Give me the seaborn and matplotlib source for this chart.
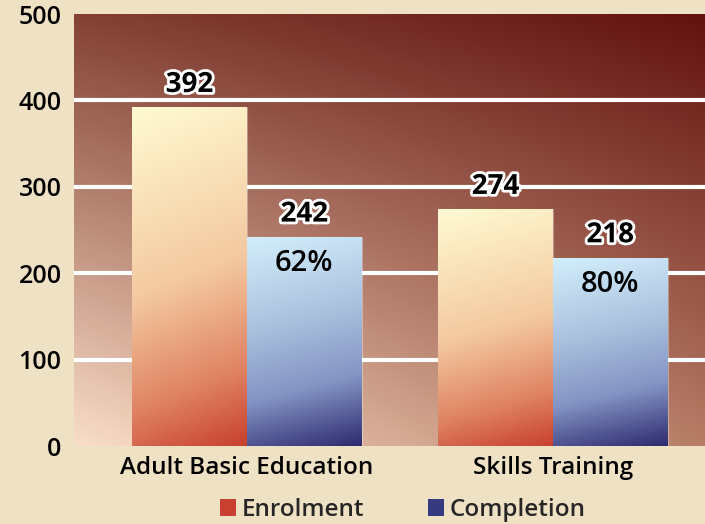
import numpy as np
import pandas as pd
import matplotlib
matplotlib.use("Agg")
import matplotlib.pyplot as plt
import seaborn as sns
from matplotlib.colors import LinearSegmentedColormap, to_rgb
import matplotlib.patheffects as pe

# ---- data ----
categories = ["Adult Basic Education", "Skills Training"]
series = ["Enrolment", "Completion"]
enrolment = [392, 274]
completion = [242, 218]
completion_pct = ["62%", "80%"]
y_ticks = [0, 100, 200, 300, 400, 500]

df = pd.DataFrame({
    "Program": categories * 2,
    "Series": [series[0]] * len(categories) + [series[1]] * len(categories),
    "Count": enrolment + completion,
})

sns.set_theme(style="white")
plt.rcParams['font.family'] = ['Open Sans', 'DejaVu Sans']

W, H = 705, 524
fig = plt.figure(figsize=(W / 100, H / 100), dpi=100, facecolor="#efe2c4")
ax = fig.add_axes([74 / W, 78 / H, 631 / W, 432 / H])

sns.barplot(data=df, x="Program", y="Count", hue="Series", order=categories,
            hue_order=series, palette=["#c8402f", "#363a7f"], width=0.75,
            saturation=1, ax=ax, zorder=3, edgecolor="none")

xlim = (-0.565, 1.497)
ylim = (0, 500)

# background gradient of plot area (bilinear between corners)
tl, tr = np.array(to_rgb("#834134")), np.array(to_rgb("#62120e"))
bl, br = np.array(to_rgb("#fadec7")), np.array(to_rgb("#b77d66"))
n = 200
u = np.linspace(0, 1, n)[None, :, None]
v = np.linspace(0, 1, n)[:, None, None]
bg = (1 - v) * ((1 - u) * tl + u * tr) + v * ((1 - u) * bl + u * br)
ax.imshow(bg, extent=[0, 1, 0, 1], transform=ax.transAxes, aspect="auto",
          zorder=0, interpolation="bilinear")

for yv in y_ticks[1:-1]:
    ax.axhline(yv, color="white", lw=3.0, zorder=1)

cmap_e = LinearSegmentedColormap.from_list(
    "e", [(0, "#fffad2"), (0.5, "#f4c9a0"), (0.8, "#df8262"), (1, "#c8412e")])
cmap_c = LinearSegmentedColormap.from_list(
    "c", [(0, "#d3effc"), (0.4, "#aac1de"), (0.7, "#8494c4"), (1, "#2e2b70")])

uu = np.linspace(0, 1, 100)[None, :]
vv = np.linspace(0, 1, 200)[:, None]
grad = 0.88 * vv + 0.12 * uu

for cont, cmap in zip(ax.containers, [cmap_e, cmap_c]):
    for bar in cont:
        x0, y0 = bar.get_x(), bar.get_y()
        w, h = bar.get_width(), bar.get_height()
        im = ax.imshow(grad, cmap=cmap, vmin=0, vmax=1, origin="upper",
                       extent=[x0, x0 + w, y0, y0 + h], aspect="auto",
                       zorder=3, interpolation="bilinear")
        im.set_clip_path(bar)
        bar.set_facecolor("none")
        bar.set_edgecolor((1, 1, 1, 0.35))
        bar.set_linewidth(0.8)

stroke = [pe.withStroke(linewidth=4, foreground="white")]
for cont in ax.containers:
    for bar in cont:
        xc = bar.get_x() + bar.get_width() / 2
        ax.annotate(f"{int(round(bar.get_height()))}", (xc, bar.get_height()),
                    xytext=(0, 6), textcoords="offset points", ha="center",
                    va="bottom", fontsize=20, fontweight="bold", color="black",
                    path_effects=stroke, zorder=5)

for bar, lab in zip(ax.containers[1], completion_pct):
    xc = bar.get_x() + bar.get_width() / 2
    ax.annotate(lab, (xc, bar.get_height()), xytext=(0, -19),
                textcoords="offset points", ha="center", va="center",
                fontsize=21, fontweight="semibold", color="black", zorder=5)

ax.set_xlim(*xlim)
ax.set_ylim(*ylim)
ax.set_yticks(y_ticks)
ax.set_yticklabels([str(t) for t in y_ticks])
ax.tick_params(axis="both", length=0, colors="black")
ax.tick_params(axis="y", pad=9, labelsize=18)
ax.tick_params(axis="x", pad=7, labelsize=17.5)
for lab in ax.get_xticklabels() + ax.get_yticklabels():
    lab.set_fontweight("semibold")
ax.set_xlabel("")
ax.set_ylabel("")
for s in ax.spines.values():
    s.set_visible(False)

handles, labels = ax.get_legend_handles_labels()
ax.get_legend().remove()
leg = fig.legend(handles, labels, loc="center", bbox_to_anchor=(403 / W, 14 / H),
                 ncol=2, frameon=False, handlelength=0.65, handleheight=0.65,
                 handletextpad=0.25, columnspacing=2.6,
                 prop={"size": 17.5, "weight": "semibold"})

fig.savefig("out.png", dpi=100, facecolor=fig.get_facecolor())
